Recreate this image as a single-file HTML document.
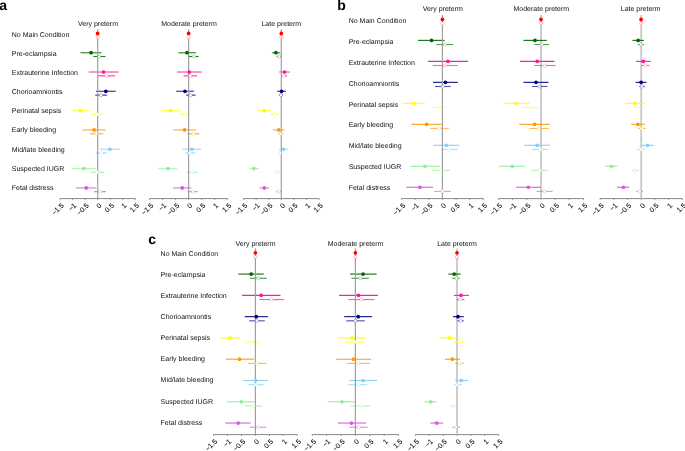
<!DOCTYPE html>
<html><head><meta charset="utf-8"><style>
html,body{margin:0;padding:0;background:#fff;}
body{width:685px;height:451px;overflow:hidden;}
svg{display:block;font-family:"Liberation Sans", sans-serif;text-rendering:geometricPrecision;will-change:transform;filter:blur(0.3px);}
text{font-family:"Liberation Sans", sans-serif;}
.tk{stroke:#111;stroke-width:0.1px;}
</style></head><body>
<svg width="685" height="451" viewBox="0 0 685 451">
<rect width="685" height="451" fill="#fff"/>
<text x="-0.8" y="10.0" font-size="14" font-weight="bold" fill="#000">a</text>
<text x="11.8" y="36.60" font-size="7" fill="#111">No Main Condition</text>
<text x="11.8" y="55.76" font-size="7" fill="#111">Pre-eclampsia</text>
<text x="11.8" y="74.92" font-size="7" fill="#111">Extrauterine Infection</text>
<text x="11.8" y="94.08" font-size="7" fill="#111">Chorioamniontis</text>
<text x="11.8" y="113.24" font-size="7" fill="#111">Perinatal sepsis</text>
<text x="11.8" y="132.40" font-size="7" fill="#111">Early bleeding</text>
<text x="11.8" y="151.56" font-size="7" fill="#111">Mid/late bleeding</text>
<text x="11.8" y="170.72" font-size="7" fill="#111">Suspected IUGR</text>
<text x="11.8" y="189.88" font-size="7" fill="#111">Fetal distress</text>
<text x="98.0" y="25.8" font-size="7" text-anchor="middle" fill="#111">Very preterm</text>
<line x1="60.05" y1="198.6" x2="135.35" y2="198.6" stroke="#888" stroke-width="1"/>
<line x1="60.05" y1="198.6" x2="60.05" y2="199.8" stroke="#888" stroke-width="1"/>
<text transform="translate(64.25,205.90) rotate(-45)" class="tk" font-size="7" text-anchor="end" fill="#111">−1.5</text>
<line x1="72.60" y1="198.6" x2="72.60" y2="199.8" stroke="#888" stroke-width="1"/>
<text transform="translate(76.80,205.90) rotate(-45)" class="tk" font-size="7" text-anchor="end" fill="#111">−1</text>
<line x1="85.15" y1="198.6" x2="85.15" y2="199.8" stroke="#888" stroke-width="1"/>
<text transform="translate(89.35,205.90) rotate(-45)" class="tk" font-size="7" text-anchor="end" fill="#111">−0.5</text>
<line x1="97.70" y1="198.6" x2="97.70" y2="199.8" stroke="#888" stroke-width="1"/>
<text transform="translate(101.90,205.90) rotate(-45)" class="tk" font-size="7" text-anchor="end" fill="#111">0</text>
<line x1="110.25" y1="198.6" x2="110.25" y2="199.8" stroke="#888" stroke-width="1"/>
<text transform="translate(114.45,205.90) rotate(-45)" class="tk" font-size="7" text-anchor="end" fill="#111">0.5</text>
<line x1="122.80" y1="198.6" x2="122.80" y2="199.8" stroke="#888" stroke-width="1"/>
<text transform="translate(127.00,205.90) rotate(-45)" class="tk" font-size="7" text-anchor="end" fill="#111">1</text>
<line x1="135.35" y1="198.6" x2="135.35" y2="199.8" stroke="#888" stroke-width="1"/>
<text transform="translate(139.55,205.90) rotate(-45)" class="tk" font-size="7" text-anchor="end" fill="#111">1.5</text>
<line x1="80.5" y1="52.71" x2="101.5" y2="52.71" stroke="#006400" stroke-width="1.4" stroke-opacity="0.65"/>
<line x1="93.4" y1="56.51" x2="105.4" y2="56.51" stroke="#006400" stroke-width="1.1" stroke-opacity="0.85"/>
<line x1="88.7" y1="72.02" x2="118.6" y2="72.02" stroke="#ff1493" stroke-width="1.4" stroke-opacity="0.65"/>
<line x1="98.0" y1="75.82" x2="115.1" y2="75.82" stroke="#ff1493" stroke-width="1.1" stroke-opacity="0.85"/>
<line x1="96.0" y1="91.33" x2="115.8" y2="91.33" stroke="#000080" stroke-width="1.4" stroke-opacity="0.65"/>
<line x1="95.3" y1="95.13" x2="106.9" y2="95.13" stroke="#000080" stroke-width="1.1" stroke-opacity="0.85"/>
<line x1="72.3" y1="110.64" x2="89.0" y2="110.64" stroke="#ffff00" stroke-width="1.4" stroke-opacity="0.65"/>
<line x1="92.2" y1="114.44" x2="102.0" y2="114.44" stroke="#ffff00" stroke-width="1.1" stroke-opacity="0.85"/>
<line x1="82.5" y1="129.95" x2="105.8" y2="129.95" stroke="#ff9900" stroke-width="1.4" stroke-opacity="0.65"/>
<line x1="90.1" y1="133.75" x2="103.3" y2="133.75" stroke="#ff9900" stroke-width="1.1" stroke-opacity="0.85"/>
<line x1="100.3" y1="149.26" x2="119.9" y2="149.26" stroke="#87cefa" stroke-width="1.4" stroke-opacity="0.65"/>
<line x1="95.7" y1="153.06" x2="107.0" y2="153.06" stroke="#87cefa" stroke-width="1.1" stroke-opacity="0.85"/>
<line x1="72.0" y1="168.57" x2="95.5" y2="168.57" stroke="#90ee90" stroke-width="1.4" stroke-opacity="0.65"/>
<line x1="90.9" y1="172.37" x2="103.9" y2="172.37" stroke="#90ee90" stroke-width="1.1" stroke-opacity="0.85"/>
<line x1="76.0" y1="187.88" x2="96.3" y2="187.88" stroke="#da55e0" stroke-width="1.4" stroke-opacity="0.65"/>
<line x1="94.0" y1="191.68" x2="106.0" y2="191.68" stroke="#da55e0" stroke-width="1.1" stroke-opacity="0.85"/>
<line x1="97.7" y1="29.2" x2="97.7" y2="198.6" stroke="#a0a0a0" stroke-width="1.2"/>
<circle cx="97.6" cy="33.40" r="1.85" fill="#ff0000"/>
<circle cx="91.1" cy="52.71" r="1.85" fill="#006400"/>
<circle cx="103.5" cy="72.02" r="1.85" fill="#ff1493"/>
<circle cx="105.8" cy="91.33" r="1.85" fill="#000080"/>
<circle cx="80.5" cy="110.64" r="1.85" fill="#ffff00"/>
<circle cx="94.2" cy="129.95" r="1.85" fill="#ff9900"/>
<circle cx="109.9" cy="149.26" r="1.85" fill="#87cefa"/>
<circle cx="83.7" cy="168.57" r="1.85" fill="#90ee90"/>
<circle cx="86.2" cy="187.88" r="1.85" fill="#da55e0"/>
<circle cx="97.6" cy="37.20" r="1.6" fill="#fff" stroke="#ff0000" stroke-width="0.55" stroke-opacity="0.45"/>
<circle cx="99.1" cy="56.51" r="1.6" fill="#fff" stroke="#006400" stroke-width="0.55" stroke-opacity="0.45"/>
<circle cx="106.4" cy="75.82" r="1.6" fill="#fff" stroke="#ff1493" stroke-width="0.55" stroke-opacity="0.45"/>
<circle cx="101.0" cy="95.13" r="1.6" fill="#fff" stroke="#000080" stroke-width="0.55" stroke-opacity="0.45"/>
<circle cx="97.1" cy="114.44" r="1.6" fill="#fff" stroke="#ffff00" stroke-width="0.55" stroke-opacity="0.45"/>
<circle cx="96.5" cy="133.75" r="1.6" fill="#fff" stroke="#ff9900" stroke-width="0.55" stroke-opacity="0.45"/>
<circle cx="101.3" cy="153.06" r="1.6" fill="#fff" stroke="#87cefa" stroke-width="0.55" stroke-opacity="0.45"/>
<circle cx="97.3" cy="172.37" r="1.6" fill="#fff" stroke="#90ee90" stroke-width="0.55" stroke-opacity="0.45"/>
<circle cx="100.2" cy="191.68" r="1.6" fill="#fff" stroke="#da55e0" stroke-width="0.55" stroke-opacity="0.45"/>
<text x="189.0" y="25.8" font-size="7" text-anchor="middle" fill="#111">Moderate preterm</text>
<line x1="149.60" y1="198.6" x2="227.60" y2="198.6" stroke="#888" stroke-width="1"/>
<line x1="149.60" y1="198.6" x2="149.60" y2="199.8" stroke="#888" stroke-width="1"/>
<text transform="translate(153.80,205.90) rotate(-45)" class="tk" font-size="7" text-anchor="end" fill="#111">−1.5</text>
<line x1="162.60" y1="198.6" x2="162.60" y2="199.8" stroke="#888" stroke-width="1"/>
<text transform="translate(166.80,205.90) rotate(-45)" class="tk" font-size="7" text-anchor="end" fill="#111">−1</text>
<line x1="175.60" y1="198.6" x2="175.60" y2="199.8" stroke="#888" stroke-width="1"/>
<text transform="translate(179.80,205.90) rotate(-45)" class="tk" font-size="7" text-anchor="end" fill="#111">−0.5</text>
<line x1="188.60" y1="198.6" x2="188.60" y2="199.8" stroke="#888" stroke-width="1"/>
<text transform="translate(192.80,205.90) rotate(-45)" class="tk" font-size="7" text-anchor="end" fill="#111">0</text>
<line x1="201.60" y1="198.6" x2="201.60" y2="199.8" stroke="#888" stroke-width="1"/>
<text transform="translate(205.80,205.90) rotate(-45)" class="tk" font-size="7" text-anchor="end" fill="#111">0.5</text>
<line x1="214.60" y1="198.6" x2="214.60" y2="199.8" stroke="#888" stroke-width="1"/>
<text transform="translate(218.80,205.90) rotate(-45)" class="tk" font-size="7" text-anchor="end" fill="#111">1</text>
<line x1="227.60" y1="198.6" x2="227.60" y2="199.8" stroke="#888" stroke-width="1"/>
<text transform="translate(231.80,205.90) rotate(-45)" class="tk" font-size="7" text-anchor="end" fill="#111">1.5</text>
<line x1="178.4" y1="52.71" x2="195.9" y2="52.71" stroke="#006400" stroke-width="1.4" stroke-opacity="0.65"/>
<line x1="188.6" y1="56.51" x2="198.6" y2="56.51" stroke="#006400" stroke-width="1.1" stroke-opacity="0.85"/>
<line x1="177.0" y1="72.02" x2="201.9" y2="72.02" stroke="#ff1493" stroke-width="1.4" stroke-opacity="0.65"/>
<line x1="183.7" y1="75.82" x2="197.0" y2="75.82" stroke="#ff1493" stroke-width="1.1" stroke-opacity="0.85"/>
<line x1="176.2" y1="91.33" x2="193.9" y2="91.33" stroke="#000080" stroke-width="1.4" stroke-opacity="0.65"/>
<line x1="186.2" y1="95.13" x2="195.5" y2="95.13" stroke="#000080" stroke-width="1.1" stroke-opacity="0.85"/>
<line x1="161.3" y1="110.64" x2="179.7" y2="110.64" stroke="#ffff00" stroke-width="1.4" stroke-opacity="0.65"/>
<line x1="180.0" y1="114.44" x2="189.7" y2="114.44" stroke="#ffff00" stroke-width="1.1" stroke-opacity="0.85"/>
<line x1="173.3" y1="129.95" x2="195.9" y2="129.95" stroke="#ff9900" stroke-width="1.4" stroke-opacity="0.65"/>
<line x1="187.3" y1="133.75" x2="199.3" y2="133.75" stroke="#ff9900" stroke-width="1.1" stroke-opacity="0.85"/>
<line x1="182.4" y1="149.26" x2="201.0" y2="149.26" stroke="#87cefa" stroke-width="1.4" stroke-opacity="0.65"/>
<line x1="185.3" y1="153.06" x2="195.3" y2="153.06" stroke="#87cefa" stroke-width="1.1" stroke-opacity="0.85"/>
<line x1="158.4" y1="168.57" x2="177.0" y2="168.57" stroke="#90ee90" stroke-width="1.4" stroke-opacity="0.65"/>
<line x1="186.6" y1="172.37" x2="197.3" y2="172.37" stroke="#90ee90" stroke-width="1.1" stroke-opacity="0.85"/>
<line x1="173.0" y1="187.88" x2="191.3" y2="187.88" stroke="#da55e0" stroke-width="1.4" stroke-opacity="0.65"/>
<line x1="187.7" y1="191.68" x2="197.5" y2="191.68" stroke="#da55e0" stroke-width="1.1" stroke-opacity="0.85"/>
<line x1="188.6" y1="29.2" x2="188.6" y2="198.6" stroke="#a0a0a0" stroke-width="1.2"/>
<circle cx="188.6" cy="33.40" r="1.85" fill="#ff0000"/>
<circle cx="187.0" cy="52.71" r="1.85" fill="#006400"/>
<circle cx="189.3" cy="72.02" r="1.85" fill="#ff1493"/>
<circle cx="185.0" cy="91.33" r="1.85" fill="#000080"/>
<circle cx="170.4" cy="110.64" r="1.85" fill="#ffff00"/>
<circle cx="184.6" cy="129.95" r="1.85" fill="#ff9900"/>
<circle cx="191.9" cy="149.26" r="1.85" fill="#87cefa"/>
<circle cx="168.0" cy="168.57" r="1.85" fill="#90ee90"/>
<circle cx="182.2" cy="187.88" r="1.85" fill="#da55e0"/>
<circle cx="188.6" cy="37.20" r="1.6" fill="#fff" stroke="#ff0000" stroke-width="0.55" stroke-opacity="0.45"/>
<circle cx="193.9" cy="56.51" r="1.6" fill="#fff" stroke="#006400" stroke-width="0.55" stroke-opacity="0.45"/>
<circle cx="190.3" cy="75.82" r="1.6" fill="#fff" stroke="#ff1493" stroke-width="0.55" stroke-opacity="0.45"/>
<circle cx="190.6" cy="95.13" r="1.6" fill="#fff" stroke="#000080" stroke-width="0.55" stroke-opacity="0.45"/>
<circle cx="184.9" cy="114.44" r="1.6" fill="#fff" stroke="#ffff00" stroke-width="0.55" stroke-opacity="0.45"/>
<circle cx="193.7" cy="133.75" r="1.6" fill="#fff" stroke="#ff9900" stroke-width="0.55" stroke-opacity="0.45"/>
<circle cx="189.7" cy="153.06" r="1.6" fill="#fff" stroke="#87cefa" stroke-width="0.55" stroke-opacity="0.45"/>
<circle cx="191.7" cy="172.37" r="1.6" fill="#fff" stroke="#90ee90" stroke-width="0.55" stroke-opacity="0.45"/>
<circle cx="192.9" cy="191.68" r="1.6" fill="#fff" stroke="#da55e0" stroke-width="0.55" stroke-opacity="0.45"/>
<text x="281.3" y="25.8" font-size="7" text-anchor="middle" fill="#111">Late preterm</text>
<line x1="243.50" y1="198.6" x2="319.10" y2="198.6" stroke="#888" stroke-width="1"/>
<line x1="243.50" y1="198.6" x2="243.50" y2="199.8" stroke="#888" stroke-width="1"/>
<text transform="translate(247.70,205.90) rotate(-45)" class="tk" font-size="7" text-anchor="end" fill="#111">−1.5</text>
<line x1="256.10" y1="198.6" x2="256.10" y2="199.8" stroke="#888" stroke-width="1"/>
<text transform="translate(260.30,205.90) rotate(-45)" class="tk" font-size="7" text-anchor="end" fill="#111">−1</text>
<line x1="268.70" y1="198.6" x2="268.70" y2="199.8" stroke="#888" stroke-width="1"/>
<text transform="translate(272.90,205.90) rotate(-45)" class="tk" font-size="7" text-anchor="end" fill="#111">−0.5</text>
<line x1="281.30" y1="198.6" x2="281.30" y2="199.8" stroke="#888" stroke-width="1"/>
<text transform="translate(285.50,205.90) rotate(-45)" class="tk" font-size="7" text-anchor="end" fill="#111">0</text>
<line x1="293.90" y1="198.6" x2="293.90" y2="199.8" stroke="#888" stroke-width="1"/>
<text transform="translate(298.10,205.90) rotate(-45)" class="tk" font-size="7" text-anchor="end" fill="#111">0.5</text>
<line x1="306.50" y1="198.6" x2="306.50" y2="199.8" stroke="#888" stroke-width="1"/>
<text transform="translate(310.70,205.90) rotate(-45)" class="tk" font-size="7" text-anchor="end" fill="#111">1</text>
<line x1="319.10" y1="198.6" x2="319.10" y2="199.8" stroke="#888" stroke-width="1"/>
<text transform="translate(323.30,205.90) rotate(-45)" class="tk" font-size="7" text-anchor="end" fill="#111">1.5</text>
<line x1="271.9" y1="52.71" x2="280.3" y2="52.71" stroke="#006400" stroke-width="1.4" stroke-opacity="0.65"/>
<line x1="276.7" y1="56.51" x2="281.0" y2="56.51" stroke="#006400" stroke-width="1.1" stroke-opacity="0.85"/>
<line x1="279.2" y1="72.02" x2="289.9" y2="72.02" stroke="#ff1493" stroke-width="1.4" stroke-opacity="0.65"/>
<line x1="281.3" y1="75.82" x2="286.9" y2="75.82" stroke="#ff1493" stroke-width="1.1" stroke-opacity="0.85"/>
<line x1="277.2" y1="91.33" x2="285.9" y2="91.33" stroke="#000080" stroke-width="1.4" stroke-opacity="0.65"/>
<line x1="279.0" y1="95.13" x2="283.0" y2="95.13" stroke="#000080" stroke-width="1.1" stroke-opacity="0.85"/>
<line x1="257.0" y1="110.64" x2="271.6" y2="110.64" stroke="#ffff00" stroke-width="1.4" stroke-opacity="0.65"/>
<line x1="271.0" y1="114.44" x2="278.3" y2="114.44" stroke="#ffff00" stroke-width="1.1" stroke-opacity="0.85"/>
<line x1="273.0" y1="129.95" x2="284.5" y2="129.95" stroke="#ff9900" stroke-width="1.4" stroke-opacity="0.65"/>
<line x1="278.3" y1="133.75" x2="283.3" y2="133.75" stroke="#ff9900" stroke-width="1.1" stroke-opacity="0.85"/>
<line x1="279.0" y1="149.26" x2="288.5" y2="149.26" stroke="#87cefa" stroke-width="1.4" stroke-opacity="0.65"/>
<line x1="278.0" y1="153.06" x2="282.3" y2="153.06" stroke="#87cefa" stroke-width="1.1" stroke-opacity="0.85"/>
<line x1="249.3" y1="168.57" x2="259.0" y2="168.57" stroke="#90ee90" stroke-width="1.4" stroke-opacity="0.65"/>
<line x1="275.0" y1="172.37" x2="279.6" y2="172.37" stroke="#90ee90" stroke-width="1.1" stroke-opacity="0.85"/>
<line x1="259.6" y1="187.88" x2="269.0" y2="187.88" stroke="#da55e0" stroke-width="1.4" stroke-opacity="0.65"/>
<line x1="276.3" y1="191.68" x2="280.7" y2="191.68" stroke="#da55e0" stroke-width="1.1" stroke-opacity="0.85"/>
<line x1="281.3" y1="29.2" x2="281.3" y2="198.6" stroke="#a0a0a0" stroke-width="1.2"/>
<circle cx="281.3" cy="33.40" r="1.85" fill="#ff0000"/>
<circle cx="275.9" cy="52.71" r="1.85" fill="#006400"/>
<circle cx="284.5" cy="72.02" r="1.85" fill="#ff1493"/>
<circle cx="281.6" cy="91.33" r="1.85" fill="#000080"/>
<circle cx="264.3" cy="110.64" r="1.85" fill="#ffff00"/>
<circle cx="278.7" cy="129.95" r="1.85" fill="#ff9900"/>
<circle cx="283.3" cy="149.26" r="1.85" fill="#87cefa"/>
<circle cx="253.9" cy="168.57" r="1.85" fill="#90ee90"/>
<circle cx="264.3" cy="187.88" r="1.85" fill="#da55e0"/>
<circle cx="281.3" cy="37.20" r="1.6" fill="#fff" stroke="#ff0000" stroke-width="0.55" stroke-opacity="0.45"/>
<circle cx="279.0" cy="56.51" r="1.6" fill="#fff" stroke="#006400" stroke-width="0.55" stroke-opacity="0.45"/>
<circle cx="283.6" cy="75.82" r="1.6" fill="#fff" stroke="#ff1493" stroke-width="0.55" stroke-opacity="0.45"/>
<circle cx="281.0" cy="95.13" r="1.6" fill="#fff" stroke="#000080" stroke-width="0.55" stroke-opacity="0.45"/>
<circle cx="274.6" cy="114.44" r="1.6" fill="#fff" stroke="#ffff00" stroke-width="0.55" stroke-opacity="0.45"/>
<circle cx="280.7" cy="133.75" r="1.6" fill="#fff" stroke="#ff9900" stroke-width="0.55" stroke-opacity="0.45"/>
<circle cx="280.0" cy="153.06" r="1.6" fill="#fff" stroke="#87cefa" stroke-width="0.55" stroke-opacity="0.45"/>
<circle cx="277.0" cy="172.37" r="1.6" fill="#fff" stroke="#90ee90" stroke-width="0.55" stroke-opacity="0.45"/>
<circle cx="278.5" cy="191.68" r="1.6" fill="#fff" stroke="#da55e0" stroke-width="0.55" stroke-opacity="0.45"/>
<text x="337.2" y="9.6" font-size="14" font-weight="bold" fill="#000">b</text>
<text x="348.7" y="23.35" font-size="7" fill="#111">No Main Condition</text>
<text x="348.7" y="44.14" font-size="7" fill="#111">Pre-eclampsia</text>
<text x="348.7" y="64.93" font-size="7" fill="#111">Extrauterine Infection</text>
<text x="348.7" y="85.72" font-size="7" fill="#111">Chorioamniontis</text>
<text x="348.7" y="106.51" font-size="7" fill="#111">Perinatal sepsis</text>
<text x="348.7" y="127.30" font-size="7" fill="#111">Early bleeding</text>
<text x="348.7" y="148.09" font-size="7" fill="#111">Mid/late bleeding</text>
<text x="348.7" y="168.88" font-size="7" fill="#111">Suspected IUGR</text>
<text x="348.7" y="189.67" font-size="7" fill="#111">Fetal distress</text>
<text x="442.8" y="11.1" font-size="7" text-anchor="middle" fill="#111">Very preterm</text>
<line x1="401.45" y1="198.6" x2="483.35" y2="198.6" stroke="#888" stroke-width="1"/>
<line x1="401.45" y1="198.6" x2="401.45" y2="199.8" stroke="#888" stroke-width="1"/>
<text transform="translate(405.65,205.90) rotate(-45)" class="tk" font-size="7" text-anchor="end" fill="#111">−1.5</text>
<line x1="415.10" y1="198.6" x2="415.10" y2="199.8" stroke="#888" stroke-width="1"/>
<text transform="translate(419.30,205.90) rotate(-45)" class="tk" font-size="7" text-anchor="end" fill="#111">−1</text>
<line x1="428.75" y1="198.6" x2="428.75" y2="199.8" stroke="#888" stroke-width="1"/>
<text transform="translate(432.95,205.90) rotate(-45)" class="tk" font-size="7" text-anchor="end" fill="#111">−0.5</text>
<line x1="442.40" y1="198.6" x2="442.40" y2="199.8" stroke="#888" stroke-width="1"/>
<text transform="translate(446.60,205.90) rotate(-45)" class="tk" font-size="7" text-anchor="end" fill="#111">0</text>
<line x1="456.05" y1="198.6" x2="456.05" y2="199.8" stroke="#888" stroke-width="1"/>
<text transform="translate(460.25,205.90) rotate(-45)" class="tk" font-size="7" text-anchor="end" fill="#111">0.5</text>
<line x1="469.70" y1="198.6" x2="469.70" y2="199.8" stroke="#888" stroke-width="1"/>
<text transform="translate(473.90,205.90) rotate(-45)" class="tk" font-size="7" text-anchor="end" fill="#111">1</text>
<line x1="483.35" y1="198.6" x2="483.35" y2="199.8" stroke="#888" stroke-width="1"/>
<text transform="translate(487.55,205.90) rotate(-45)" class="tk" font-size="7" text-anchor="end" fill="#111">1.5</text>
<line x1="418.0" y1="40.38" x2="444.6" y2="40.38" stroke="#006400" stroke-width="1.1" stroke-opacity="0.95"/>
<line x1="436.4" y1="44.53" x2="453.3" y2="44.53" stroke="#006400" stroke-width="1.1" stroke-opacity="0.65"/>
<line x1="427.9" y1="61.36" x2="468.1" y2="61.36" stroke="#ff1493" stroke-width="1.1" stroke-opacity="0.95"/>
<line x1="432.7" y1="65.51" x2="457.8" y2="65.51" stroke="#ff1493" stroke-width="1.1" stroke-opacity="0.65"/>
<line x1="433.0" y1="82.34" x2="457.8" y2="82.34" stroke="#000080" stroke-width="1.1" stroke-opacity="0.95"/>
<line x1="435.1" y1="86.49" x2="450.8" y2="86.49" stroke="#000080" stroke-width="1.1" stroke-opacity="0.65"/>
<line x1="403.1" y1="103.32" x2="425.0" y2="103.32" stroke="#ffff00" stroke-width="1.1" stroke-opacity="0.95"/>
<line x1="433.0" y1="107.47" x2="446.9" y2="107.47" stroke="#ffff00" stroke-width="1.1" stroke-opacity="0.65"/>
<line x1="411.4" y1="124.30" x2="441.5" y2="124.30" stroke="#ff9900" stroke-width="1.1" stroke-opacity="0.95"/>
<line x1="430.2" y1="128.45" x2="448.8" y2="128.45" stroke="#ff9900" stroke-width="1.1" stroke-opacity="0.65"/>
<line x1="433.4" y1="145.28" x2="459.1" y2="145.28" stroke="#87cefa" stroke-width="1.1" stroke-opacity="0.95"/>
<line x1="441.1" y1="149.43" x2="457.5" y2="149.43" stroke="#87cefa" stroke-width="1.1" stroke-opacity="0.65"/>
<line x1="410.2" y1="166.26" x2="439.8" y2="166.26" stroke="#90ee90" stroke-width="1.1" stroke-opacity="0.95"/>
<line x1="431.5" y1="170.41" x2="450.1" y2="170.41" stroke="#90ee90" stroke-width="1.1" stroke-opacity="0.65"/>
<line x1="406.4" y1="187.24" x2="433.1" y2="187.24" stroke="#da55e0" stroke-width="1.1" stroke-opacity="0.95"/>
<line x1="434.0" y1="191.39" x2="451.0" y2="191.39" stroke="#da55e0" stroke-width="1.1" stroke-opacity="0.65"/>
<line x1="442.4" y1="15.1" x2="442.4" y2="198.6" stroke="#a0a0a0" stroke-width="1.2"/>
<circle cx="442.4" cy="19.40" r="1.85" fill="#ff0000"/>
<circle cx="431.5" cy="40.38" r="1.85" fill="#006400"/>
<circle cx="447.9" cy="61.36" r="1.85" fill="#ff1493"/>
<circle cx="445.4" cy="82.34" r="1.85" fill="#000080"/>
<circle cx="414.1" cy="103.32" r="1.85" fill="#ffff00"/>
<circle cx="426.6" cy="124.30" r="1.85" fill="#ff9900"/>
<circle cx="446.3" cy="145.28" r="1.85" fill="#87cefa"/>
<circle cx="425.0" cy="166.26" r="1.85" fill="#90ee90"/>
<circle cx="419.9" cy="187.24" r="1.85" fill="#da55e0"/>
<circle cx="442.4" cy="23.55" r="1.6" fill="#fff" stroke="#ff0000" stroke-width="0.55" stroke-opacity="0.45"/>
<circle cx="445.0" cy="44.53" r="1.6" fill="#fff" stroke="#006400" stroke-width="0.55" stroke-opacity="0.45"/>
<circle cx="445.2" cy="65.51" r="1.6" fill="#fff" stroke="#ff1493" stroke-width="0.55" stroke-opacity="0.45"/>
<circle cx="442.8" cy="86.49" r="1.6" fill="#fff" stroke="#000080" stroke-width="0.55" stroke-opacity="0.45"/>
<circle cx="439.8" cy="107.47" r="1.6" fill="#fff" stroke="#ffff00" stroke-width="0.55" stroke-opacity="0.45"/>
<circle cx="439.4" cy="128.45" r="1.6" fill="#fff" stroke="#ff9900" stroke-width="0.55" stroke-opacity="0.45"/>
<circle cx="449.2" cy="149.43" r="1.6" fill="#fff" stroke="#87cefa" stroke-width="0.55" stroke-opacity="0.45"/>
<circle cx="440.6" cy="170.41" r="1.6" fill="#fff" stroke="#90ee90" stroke-width="0.55" stroke-opacity="0.45"/>
<circle cx="442.4" cy="191.39" r="1.6" fill="#fff" stroke="#da55e0" stroke-width="0.55" stroke-opacity="0.45"/>
<text x="541.3" y="11.1" font-size="7" text-anchor="middle" fill="#111">Moderate preterm</text>
<line x1="498.40" y1="198.6" x2="583.60" y2="198.6" stroke="#888" stroke-width="1"/>
<line x1="498.40" y1="198.6" x2="498.40" y2="199.8" stroke="#888" stroke-width="1"/>
<text transform="translate(502.60,205.90) rotate(-45)" class="tk" font-size="7" text-anchor="end" fill="#111">−1.5</text>
<line x1="512.60" y1="198.6" x2="512.60" y2="199.8" stroke="#888" stroke-width="1"/>
<text transform="translate(516.80,205.90) rotate(-45)" class="tk" font-size="7" text-anchor="end" fill="#111">−1</text>
<line x1="526.80" y1="198.6" x2="526.80" y2="199.8" stroke="#888" stroke-width="1"/>
<text transform="translate(531.00,205.90) rotate(-45)" class="tk" font-size="7" text-anchor="end" fill="#111">−0.5</text>
<line x1="541.00" y1="198.6" x2="541.00" y2="199.8" stroke="#888" stroke-width="1"/>
<text transform="translate(545.20,205.90) rotate(-45)" class="tk" font-size="7" text-anchor="end" fill="#111">0</text>
<line x1="555.20" y1="198.6" x2="555.20" y2="199.8" stroke="#888" stroke-width="1"/>
<text transform="translate(559.40,205.90) rotate(-45)" class="tk" font-size="7" text-anchor="end" fill="#111">0.5</text>
<line x1="569.40" y1="198.6" x2="569.40" y2="199.8" stroke="#888" stroke-width="1"/>
<text transform="translate(573.60,205.90) rotate(-45)" class="tk" font-size="7" text-anchor="end" fill="#111">1</text>
<line x1="583.60" y1="198.6" x2="583.60" y2="199.8" stroke="#888" stroke-width="1"/>
<text transform="translate(587.80,205.90) rotate(-45)" class="tk" font-size="7" text-anchor="end" fill="#111">1.5</text>
<line x1="541.0" y1="15.1" x2="541.0" y2="198.6" stroke="#c8c8c8" stroke-width="1.8"/>
<line x1="523.4" y1="40.38" x2="546.8" y2="40.38" stroke="#006400" stroke-width="1.1" stroke-opacity="0.95"/>
<line x1="534.3" y1="44.53" x2="549.1" y2="44.53" stroke="#006400" stroke-width="1.1" stroke-opacity="0.65"/>
<line x1="519.9" y1="61.36" x2="554.5" y2="61.36" stroke="#ff1493" stroke-width="1.1" stroke-opacity="0.95"/>
<line x1="534.1" y1="65.51" x2="555.6" y2="65.51" stroke="#ff1493" stroke-width="1.1" stroke-opacity="0.65"/>
<line x1="523.4" y1="82.34" x2="548.5" y2="82.34" stroke="#000080" stroke-width="1.1" stroke-opacity="0.95"/>
<line x1="532.0" y1="86.49" x2="547.5" y2="86.49" stroke="#000080" stroke-width="1.1" stroke-opacity="0.65"/>
<line x1="503.2" y1="103.32" x2="529.4" y2="103.32" stroke="#ffff00" stroke-width="1.1" stroke-opacity="0.95"/>
<line x1="523.0" y1="107.47" x2="538.8" y2="107.47" stroke="#ffff00" stroke-width="1.1" stroke-opacity="0.65"/>
<line x1="519.1" y1="124.30" x2="549.8" y2="124.30" stroke="#ff9900" stroke-width="1.1" stroke-opacity="0.95"/>
<line x1="529.4" y1="128.45" x2="548.7" y2="128.45" stroke="#ff9900" stroke-width="1.1" stroke-opacity="0.65"/>
<line x1="524.4" y1="145.28" x2="549.8" y2="145.28" stroke="#87cefa" stroke-width="1.1" stroke-opacity="0.95"/>
<line x1="532.1" y1="149.43" x2="548.1" y2="149.43" stroke="#87cefa" stroke-width="1.1" stroke-opacity="0.65"/>
<line x1="498.9" y1="166.26" x2="525.1" y2="166.26" stroke="#90ee90" stroke-width="1.1" stroke-opacity="0.95"/>
<line x1="531.1" y1="170.41" x2="547.8" y2="170.41" stroke="#90ee90" stroke-width="1.1" stroke-opacity="0.65"/>
<line x1="516.0" y1="187.24" x2="540.8" y2="187.24" stroke="#da55e0" stroke-width="1.1" stroke-opacity="0.95"/>
<line x1="536.5" y1="191.39" x2="552.6" y2="191.39" stroke="#da55e0" stroke-width="1.1" stroke-opacity="0.65"/>
<circle cx="541.0" cy="19.40" r="1.85" fill="#ff0000"/>
<circle cx="535.0" cy="40.38" r="1.85" fill="#006400"/>
<circle cx="537.2" cy="61.36" r="1.85" fill="#ff1493"/>
<circle cx="536.0" cy="82.34" r="1.85" fill="#000080"/>
<circle cx="516.3" cy="103.32" r="1.85" fill="#ffff00"/>
<circle cx="534.6" cy="124.30" r="1.85" fill="#ff9900"/>
<circle cx="537.2" cy="145.28" r="1.85" fill="#87cefa"/>
<circle cx="512.2" cy="166.26" r="1.85" fill="#90ee90"/>
<circle cx="528.3" cy="187.24" r="1.85" fill="#da55e0"/>
<circle cx="541.0" cy="23.55" r="1.6" fill="#fff" stroke="#ff0000" stroke-width="0.55" stroke-opacity="0.45"/>
<circle cx="541.7" cy="44.53" r="1.6" fill="#fff" stroke="#006400" stroke-width="0.55" stroke-opacity="0.45"/>
<circle cx="544.4" cy="65.51" r="1.6" fill="#fff" stroke="#ff1493" stroke-width="0.55" stroke-opacity="0.45"/>
<circle cx="539.5" cy="86.49" r="1.6" fill="#fff" stroke="#000080" stroke-width="0.55" stroke-opacity="0.45"/>
<circle cx="531.1" cy="107.47" r="1.6" fill="#fff" stroke="#ffff00" stroke-width="0.55" stroke-opacity="0.45"/>
<circle cx="538.8" cy="128.45" r="1.6" fill="#fff" stroke="#ff9900" stroke-width="0.55" stroke-opacity="0.45"/>
<circle cx="540.4" cy="149.43" r="1.6" fill="#fff" stroke="#87cefa" stroke-width="0.55" stroke-opacity="0.45"/>
<circle cx="539.7" cy="170.41" r="1.6" fill="#fff" stroke="#90ee90" stroke-width="0.55" stroke-opacity="0.45"/>
<circle cx="544.6" cy="191.39" r="1.6" fill="#fff" stroke="#da55e0" stroke-width="0.55" stroke-opacity="0.45"/>
<text x="640.6" y="11.1" font-size="7" text-anchor="middle" fill="#111">Late preterm</text>
<line x1="600.10" y1="198.6" x2="682.30" y2="198.6" stroke="#888" stroke-width="1"/>
<line x1="600.10" y1="198.6" x2="600.10" y2="199.8" stroke="#888" stroke-width="1"/>
<text transform="translate(604.30,205.90) rotate(-45)" class="tk" font-size="7" text-anchor="end" fill="#111">−1.5</text>
<line x1="613.80" y1="198.6" x2="613.80" y2="199.8" stroke="#888" stroke-width="1"/>
<text transform="translate(618.00,205.90) rotate(-45)" class="tk" font-size="7" text-anchor="end" fill="#111">−1</text>
<line x1="627.50" y1="198.6" x2="627.50" y2="199.8" stroke="#888" stroke-width="1"/>
<text transform="translate(631.70,205.90) rotate(-45)" class="tk" font-size="7" text-anchor="end" fill="#111">−0.5</text>
<line x1="641.20" y1="198.6" x2="641.20" y2="199.8" stroke="#888" stroke-width="1"/>
<text transform="translate(645.40,205.90) rotate(-45)" class="tk" font-size="7" text-anchor="end" fill="#111">0</text>
<line x1="654.90" y1="198.6" x2="654.90" y2="199.8" stroke="#888" stroke-width="1"/>
<text transform="translate(659.10,205.90) rotate(-45)" class="tk" font-size="7" text-anchor="end" fill="#111">0.5</text>
<line x1="668.60" y1="198.6" x2="668.60" y2="199.8" stroke="#888" stroke-width="1"/>
<text transform="translate(672.80,205.90) rotate(-45)" class="tk" font-size="7" text-anchor="end" fill="#111">1</text>
<line x1="682.30" y1="198.6" x2="682.30" y2="199.8" stroke="#888" stroke-width="1"/>
<text transform="translate(686.50,205.90) rotate(-45)" class="tk" font-size="7" text-anchor="end" fill="#111">1.5</text>
<line x1="641.2" y1="15.1" x2="641.2" y2="198.6" stroke="#c8c8c8" stroke-width="1.8"/>
<line x1="632.4" y1="40.38" x2="644.0" y2="40.38" stroke="#006400" stroke-width="1.1" stroke-opacity="0.95"/>
<line x1="637.9" y1="44.53" x2="644.0" y2="44.53" stroke="#006400" stroke-width="1.1" stroke-opacity="0.65"/>
<line x1="636.0" y1="61.36" x2="650.8" y2="61.36" stroke="#ff1493" stroke-width="1.1" stroke-opacity="0.95"/>
<line x1="641.4" y1="65.51" x2="649.5" y2="65.51" stroke="#ff1493" stroke-width="1.1" stroke-opacity="0.65"/>
<line x1="635.6" y1="82.34" x2="646.5" y2="82.34" stroke="#000080" stroke-width="1.1" stroke-opacity="0.95"/>
<line x1="639.2" y1="86.49" x2="644.9" y2="86.49" stroke="#000080" stroke-width="1.1" stroke-opacity="0.65"/>
<line x1="625.1" y1="103.32" x2="644.9" y2="103.32" stroke="#ffff00" stroke-width="1.1" stroke-opacity="0.95"/>
<line x1="633.7" y1="107.47" x2="644.4" y2="107.47" stroke="#ffff00" stroke-width="1.1" stroke-opacity="0.65"/>
<line x1="631.1" y1="124.30" x2="644.9" y2="124.30" stroke="#ff9900" stroke-width="1.1" stroke-opacity="0.95"/>
<line x1="638.2" y1="128.45" x2="645.9" y2="128.45" stroke="#ff9900" stroke-width="1.1" stroke-opacity="0.65"/>
<line x1="641.4" y1="145.28" x2="653.9" y2="145.28" stroke="#87cefa" stroke-width="1.1" stroke-opacity="0.95"/>
<line x1="637.3" y1="149.43" x2="644.6" y2="149.43" stroke="#87cefa" stroke-width="1.1" stroke-opacity="0.65"/>
<line x1="605.4" y1="166.26" x2="617.6" y2="166.26" stroke="#90ee90" stroke-width="1.1" stroke-opacity="0.95"/>
<line x1="632.0" y1="170.41" x2="638.8" y2="170.41" stroke="#90ee90" stroke-width="1.1" stroke-opacity="0.65"/>
<line x1="617.0" y1="187.24" x2="629.2" y2="187.24" stroke="#da55e0" stroke-width="1.1" stroke-opacity="0.95"/>
<line x1="636.0" y1="191.39" x2="643.0" y2="191.39" stroke="#da55e0" stroke-width="1.1" stroke-opacity="0.65"/>
<circle cx="641.1" cy="19.40" r="1.85" fill="#ff0000"/>
<circle cx="638.2" cy="40.38" r="1.85" fill="#006400"/>
<circle cx="643.3" cy="61.36" r="1.85" fill="#ff1493"/>
<circle cx="641.1" cy="82.34" r="1.85" fill="#000080"/>
<circle cx="634.7" cy="103.32" r="1.85" fill="#ffff00"/>
<circle cx="637.9" cy="124.30" r="1.85" fill="#ff9900"/>
<circle cx="647.6" cy="145.28" r="1.85" fill="#87cefa"/>
<circle cx="611.4" cy="166.26" r="1.85" fill="#90ee90"/>
<circle cx="623.4" cy="187.24" r="1.85" fill="#da55e0"/>
<circle cx="641.1" cy="23.55" r="1.6" fill="#fff" stroke="#ff0000" stroke-width="0.55" stroke-opacity="0.45"/>
<circle cx="641.0" cy="44.53" r="1.6" fill="#fff" stroke="#006400" stroke-width="0.55" stroke-opacity="0.45"/>
<circle cx="645.0" cy="65.51" r="1.6" fill="#fff" stroke="#ff1493" stroke-width="0.55" stroke-opacity="0.45"/>
<circle cx="641.8" cy="86.49" r="1.6" fill="#fff" stroke="#000080" stroke-width="0.55" stroke-opacity="0.45"/>
<circle cx="638.8" cy="107.47" r="1.6" fill="#fff" stroke="#ffff00" stroke-width="0.55" stroke-opacity="0.45"/>
<circle cx="641.7" cy="128.45" r="1.6" fill="#fff" stroke="#ff9900" stroke-width="0.55" stroke-opacity="0.45"/>
<circle cx="641.1" cy="149.43" r="1.6" fill="#fff" stroke="#87cefa" stroke-width="0.55" stroke-opacity="0.45"/>
<circle cx="635.2" cy="170.41" r="1.6" fill="#fff" stroke="#90ee90" stroke-width="0.55" stroke-opacity="0.45"/>
<circle cx="639.5" cy="191.39" r="1.6" fill="#fff" stroke="#da55e0" stroke-width="0.55" stroke-opacity="0.45"/>
<text x="148.2" y="244.0" font-size="14" font-weight="bold" fill="#000">c</text>
<text x="160.6" y="255.90" font-size="7" fill="#111">No Main Condition</text>
<text x="160.6" y="276.99" font-size="7" fill="#111">Pre-eclampsia</text>
<text x="160.6" y="298.08" font-size="7" fill="#111">Extrauterine Infection</text>
<text x="160.6" y="319.17" font-size="7" fill="#111">Chorioamniontis</text>
<text x="160.6" y="340.26" font-size="7" fill="#111">Perinatal sepsis</text>
<text x="160.6" y="361.35" font-size="7" fill="#111">Early bleeding</text>
<text x="160.6" y="382.44" font-size="7" fill="#111">Mid/late bleeding</text>
<text x="160.6" y="403.53" font-size="7" fill="#111">Suspected IUGR</text>
<text x="160.6" y="424.62" font-size="7" fill="#111">Fetal distress</text>
<text x="255.5" y="245.8" font-size="7" text-anchor="middle" fill="#111">Very preterm</text>
<line x1="213.55" y1="434.6" x2="297.25" y2="434.6" stroke="#888" stroke-width="1"/>
<line x1="213.55" y1="434.6" x2="213.55" y2="435.8" stroke="#888" stroke-width="1"/>
<text transform="translate(217.75,441.90) rotate(-45)" class="tk" font-size="7" text-anchor="end" fill="#111">−1.5</text>
<line x1="227.50" y1="434.6" x2="227.50" y2="435.8" stroke="#888" stroke-width="1"/>
<text transform="translate(231.70,441.90) rotate(-45)" class="tk" font-size="7" text-anchor="end" fill="#111">−1</text>
<line x1="241.45" y1="434.6" x2="241.45" y2="435.8" stroke="#888" stroke-width="1"/>
<text transform="translate(245.65,441.90) rotate(-45)" class="tk" font-size="7" text-anchor="end" fill="#111">−0.5</text>
<line x1="255.40" y1="434.6" x2="255.40" y2="435.8" stroke="#888" stroke-width="1"/>
<text transform="translate(259.60,441.90) rotate(-45)" class="tk" font-size="7" text-anchor="end" fill="#111">0</text>
<line x1="269.35" y1="434.6" x2="269.35" y2="435.8" stroke="#888" stroke-width="1"/>
<text transform="translate(273.55,441.90) rotate(-45)" class="tk" font-size="7" text-anchor="end" fill="#111">0.5</text>
<line x1="283.30" y1="434.6" x2="283.30" y2="435.8" stroke="#888" stroke-width="1"/>
<text transform="translate(287.50,441.90) rotate(-45)" class="tk" font-size="7" text-anchor="end" fill="#111">1</text>
<line x1="297.25" y1="434.6" x2="297.25" y2="435.8" stroke="#888" stroke-width="1"/>
<text transform="translate(301.45,441.90) rotate(-45)" class="tk" font-size="7" text-anchor="end" fill="#111">1.5</text>
<line x1="238.3" y1="274.08" x2="263.8" y2="274.08" stroke="#006400" stroke-width="1.1" stroke-opacity="0.95"/>
<line x1="250.0" y1="278.28" x2="266.7" y2="278.28" stroke="#006400" stroke-width="1.1" stroke-opacity="0.7"/>
<line x1="242.1" y1="295.36" x2="280.5" y2="295.36" stroke="#ff1493" stroke-width="1.1" stroke-opacity="0.95"/>
<line x1="259.3" y1="299.56" x2="284.1" y2="299.56" stroke="#ff1493" stroke-width="1.1" stroke-opacity="0.7"/>
<line x1="244.7" y1="316.64" x2="267.9" y2="316.64" stroke="#000080" stroke-width="1.1" stroke-opacity="0.95"/>
<line x1="249.2" y1="320.84" x2="264.8" y2="320.84" stroke="#000080" stroke-width="1.1" stroke-opacity="0.7"/>
<line x1="219.9" y1="337.92" x2="240.1" y2="337.92" stroke="#ffff00" stroke-width="1.1" stroke-opacity="0.95"/>
<line x1="245.1" y1="342.12" x2="258.5" y2="342.12" stroke="#ffff00" stroke-width="1.1" stroke-opacity="0.7"/>
<line x1="226.0" y1="359.20" x2="253.9" y2="359.20" stroke="#ff9900" stroke-width="1.1" stroke-opacity="0.95"/>
<line x1="248.1" y1="363.40" x2="266.4" y2="363.40" stroke="#ff9900" stroke-width="1.1" stroke-opacity="0.7"/>
<line x1="243.2" y1="380.48" x2="267.8" y2="380.48" stroke="#87cefa" stroke-width="1.1" stroke-opacity="0.95"/>
<line x1="248.1" y1="384.68" x2="263.9" y2="384.68" stroke="#87cefa" stroke-width="1.1" stroke-opacity="0.7"/>
<line x1="227.1" y1="401.76" x2="254.5" y2="401.76" stroke="#90ee90" stroke-width="1.1" stroke-opacity="0.95"/>
<line x1="244.9" y1="405.96" x2="262.3" y2="405.96" stroke="#90ee90" stroke-width="1.1" stroke-opacity="0.7"/>
<line x1="225.3" y1="423.04" x2="250.7" y2="423.04" stroke="#da55e0" stroke-width="1.1" stroke-opacity="0.95"/>
<line x1="249.7" y1="427.24" x2="266.1" y2="427.24" stroke="#da55e0" stroke-width="1.1" stroke-opacity="0.7"/>
<line x1="255.4" y1="248.4" x2="255.4" y2="434.6" stroke="#a0a0a0" stroke-width="1.2"/>
<circle cx="255.4" cy="252.80" r="1.85" fill="#ff0000"/>
<circle cx="251.2" cy="274.08" r="1.85" fill="#006400"/>
<circle cx="261.2" cy="295.36" r="1.85" fill="#ff1493"/>
<circle cx="256.3" cy="316.64" r="1.85" fill="#000080"/>
<circle cx="230.2" cy="337.92" r="1.85" fill="#ffff00"/>
<circle cx="239.5" cy="359.20" r="1.85" fill="#ff9900"/>
<circle cx="255.6" cy="380.48" r="1.85" fill="#87cefa"/>
<circle cx="241.3" cy="401.76" r="1.85" fill="#90ee90"/>
<circle cx="238.2" cy="423.04" r="1.85" fill="#da55e0"/>
<circle cx="255.4" cy="257.00" r="1.6" fill="#fff" stroke="#ff0000" stroke-width="0.55" stroke-opacity="0.45"/>
<circle cx="258.4" cy="278.28" r="1.6" fill="#fff" stroke="#006400" stroke-width="0.55" stroke-opacity="0.45"/>
<circle cx="271.5" cy="299.56" r="1.6" fill="#fff" stroke="#ff1493" stroke-width="0.55" stroke-opacity="0.45"/>
<circle cx="257.0" cy="320.84" r="1.6" fill="#fff" stroke="#000080" stroke-width="0.55" stroke-opacity="0.45"/>
<circle cx="251.5" cy="342.12" r="1.6" fill="#fff" stroke="#ffff00" stroke-width="0.55" stroke-opacity="0.45"/>
<circle cx="256.9" cy="363.40" r="1.6" fill="#fff" stroke="#ff9900" stroke-width="0.55" stroke-opacity="0.45"/>
<circle cx="255.8" cy="384.68" r="1.6" fill="#fff" stroke="#87cefa" stroke-width="0.55" stroke-opacity="0.45"/>
<circle cx="253.3" cy="405.96" r="1.6" fill="#fff" stroke="#90ee90" stroke-width="0.55" stroke-opacity="0.45"/>
<circle cx="258.0" cy="427.24" r="1.6" fill="#fff" stroke="#da55e0" stroke-width="0.55" stroke-opacity="0.45"/>
<text x="355.5" y="245.8" font-size="7" text-anchor="middle" fill="#111">Moderate preterm</text>
<line x1="312.20" y1="434.6" x2="398.60" y2="434.6" stroke="#888" stroke-width="1"/>
<line x1="312.20" y1="434.6" x2="312.20" y2="435.8" stroke="#888" stroke-width="1"/>
<text transform="translate(316.40,441.90) rotate(-45)" class="tk" font-size="7" text-anchor="end" fill="#111">−1.5</text>
<line x1="326.60" y1="434.6" x2="326.60" y2="435.8" stroke="#888" stroke-width="1"/>
<text transform="translate(330.80,441.90) rotate(-45)" class="tk" font-size="7" text-anchor="end" fill="#111">−1</text>
<line x1="341.00" y1="434.6" x2="341.00" y2="435.8" stroke="#888" stroke-width="1"/>
<text transform="translate(345.20,441.90) rotate(-45)" class="tk" font-size="7" text-anchor="end" fill="#111">−0.5</text>
<line x1="355.40" y1="434.6" x2="355.40" y2="435.8" stroke="#888" stroke-width="1"/>
<text transform="translate(359.60,441.90) rotate(-45)" class="tk" font-size="7" text-anchor="end" fill="#111">0</text>
<line x1="369.80" y1="434.6" x2="369.80" y2="435.8" stroke="#888" stroke-width="1"/>
<text transform="translate(374.00,441.90) rotate(-45)" class="tk" font-size="7" text-anchor="end" fill="#111">0.5</text>
<line x1="384.20" y1="434.6" x2="384.20" y2="435.8" stroke="#888" stroke-width="1"/>
<text transform="translate(388.40,441.90) rotate(-45)" class="tk" font-size="7" text-anchor="end" fill="#111">1</text>
<line x1="398.60" y1="434.6" x2="398.60" y2="435.8" stroke="#888" stroke-width="1"/>
<text transform="translate(402.80,441.90) rotate(-45)" class="tk" font-size="7" text-anchor="end" fill="#111">1.5</text>
<line x1="350.0" y1="274.08" x2="376.6" y2="274.08" stroke="#006400" stroke-width="1.1" stroke-opacity="0.95"/>
<line x1="351.5" y1="278.28" x2="368.9" y2="278.28" stroke="#006400" stroke-width="1.1" stroke-opacity="0.7"/>
<line x1="339.1" y1="295.36" x2="377.9" y2="295.36" stroke="#ff1493" stroke-width="1.1" stroke-opacity="0.95"/>
<line x1="348.7" y1="299.56" x2="374.3" y2="299.56" stroke="#ff1493" stroke-width="1.1" stroke-opacity="0.7"/>
<line x1="344.2" y1="316.64" x2="372.1" y2="316.64" stroke="#000080" stroke-width="1.1" stroke-opacity="0.95"/>
<line x1="346.4" y1="320.84" x2="364.8" y2="320.84" stroke="#000080" stroke-width="1.1" stroke-opacity="0.7"/>
<line x1="337.4" y1="337.92" x2="366.3" y2="337.92" stroke="#ffff00" stroke-width="1.1" stroke-opacity="0.95"/>
<line x1="345.1" y1="342.12" x2="364.0" y2="342.12" stroke="#ffff00" stroke-width="1.1" stroke-opacity="0.7"/>
<line x1="336.1" y1="359.20" x2="371.1" y2="359.20" stroke="#ff9900" stroke-width="1.1" stroke-opacity="0.95"/>
<line x1="347.0" y1="363.40" x2="369.8" y2="363.40" stroke="#ff9900" stroke-width="1.1" stroke-opacity="0.7"/>
<line x1="349.2" y1="380.48" x2="377.3" y2="380.48" stroke="#87cefa" stroke-width="1.1" stroke-opacity="0.95"/>
<line x1="348.3" y1="384.68" x2="367.2" y2="384.68" stroke="#87cefa" stroke-width="1.1" stroke-opacity="0.7"/>
<line x1="327.5" y1="401.76" x2="356.3" y2="401.76" stroke="#90ee90" stroke-width="1.1" stroke-opacity="0.95"/>
<line x1="350.6" y1="405.96" x2="369.8" y2="405.96" stroke="#90ee90" stroke-width="1.1" stroke-opacity="0.7"/>
<line x1="338.0" y1="423.04" x2="366.1" y2="423.04" stroke="#da55e0" stroke-width="1.1" stroke-opacity="0.95"/>
<line x1="349.2" y1="427.24" x2="367.6" y2="427.24" stroke="#da55e0" stroke-width="1.1" stroke-opacity="0.7"/>
<line x1="355.4" y1="248.4" x2="355.4" y2="434.6" stroke="#a0a0a0" stroke-width="1.2"/>
<circle cx="355.4" cy="252.80" r="1.85" fill="#ff0000"/>
<circle cx="363.1" cy="274.08" r="1.85" fill="#006400"/>
<circle cx="358.4" cy="295.36" r="1.85" fill="#ff1493"/>
<circle cx="358.2" cy="316.64" r="1.85" fill="#000080"/>
<circle cx="351.9" cy="337.92" r="1.85" fill="#ffff00"/>
<circle cx="353.5" cy="359.20" r="1.85" fill="#ff9900"/>
<circle cx="363.1" cy="380.48" r="1.85" fill="#87cefa"/>
<circle cx="341.9" cy="401.76" r="1.85" fill="#90ee90"/>
<circle cx="351.5" cy="423.04" r="1.85" fill="#da55e0"/>
<circle cx="355.4" cy="257.00" r="1.6" fill="#fff" stroke="#ff0000" stroke-width="0.55" stroke-opacity="0.45"/>
<circle cx="360.3" cy="278.28" r="1.6" fill="#fff" stroke="#006400" stroke-width="0.55" stroke-opacity="0.45"/>
<circle cx="361.5" cy="299.56" r="1.6" fill="#fff" stroke="#ff1493" stroke-width="0.55" stroke-opacity="0.45"/>
<circle cx="355.4" cy="320.84" r="1.6" fill="#fff" stroke="#000080" stroke-width="0.55" stroke-opacity="0.45"/>
<circle cx="354.6" cy="342.12" r="1.6" fill="#fff" stroke="#ffff00" stroke-width="0.55" stroke-opacity="0.45"/>
<circle cx="358.2" cy="363.40" r="1.6" fill="#fff" stroke="#ff9900" stroke-width="0.55" stroke-opacity="0.45"/>
<circle cx="358.2" cy="384.68" r="1.6" fill="#fff" stroke="#87cefa" stroke-width="0.55" stroke-opacity="0.45"/>
<circle cx="360.3" cy="405.96" r="1.6" fill="#fff" stroke="#90ee90" stroke-width="0.55" stroke-opacity="0.45"/>
<circle cx="358.6" cy="427.24" r="1.6" fill="#fff" stroke="#da55e0" stroke-width="0.55" stroke-opacity="0.45"/>
<text x="457.0" y="245.8" font-size="7" text-anchor="middle" fill="#111">Late preterm</text>
<line x1="415.30" y1="434.6" x2="498.70" y2="434.6" stroke="#888" stroke-width="1"/>
<line x1="415.30" y1="434.6" x2="415.30" y2="435.8" stroke="#888" stroke-width="1"/>
<text transform="translate(419.50,441.90) rotate(-45)" class="tk" font-size="7" text-anchor="end" fill="#111">−1.5</text>
<line x1="429.20" y1="434.6" x2="429.20" y2="435.8" stroke="#888" stroke-width="1"/>
<text transform="translate(433.40,441.90) rotate(-45)" class="tk" font-size="7" text-anchor="end" fill="#111">−1</text>
<line x1="443.10" y1="434.6" x2="443.10" y2="435.8" stroke="#888" stroke-width="1"/>
<text transform="translate(447.30,441.90) rotate(-45)" class="tk" font-size="7" text-anchor="end" fill="#111">−0.5</text>
<line x1="457.00" y1="434.6" x2="457.00" y2="435.8" stroke="#888" stroke-width="1"/>
<text transform="translate(461.20,441.90) rotate(-45)" class="tk" font-size="7" text-anchor="end" fill="#111">0</text>
<line x1="470.90" y1="434.6" x2="470.90" y2="435.8" stroke="#888" stroke-width="1"/>
<text transform="translate(475.10,441.90) rotate(-45)" class="tk" font-size="7" text-anchor="end" fill="#111">0.5</text>
<line x1="484.80" y1="434.6" x2="484.80" y2="435.8" stroke="#888" stroke-width="1"/>
<text transform="translate(489.00,441.90) rotate(-45)" class="tk" font-size="7" text-anchor="end" fill="#111">1</text>
<line x1="498.70" y1="434.6" x2="498.70" y2="435.8" stroke="#888" stroke-width="1"/>
<text transform="translate(502.90,441.90) rotate(-45)" class="tk" font-size="7" text-anchor="end" fill="#111">1.5</text>
<line x1="457.0" y1="248.4" x2="457.0" y2="434.6" stroke="#c8c8c8" stroke-width="1.8"/>
<line x1="448.4" y1="274.08" x2="460.6" y2="274.08" stroke="#006400" stroke-width="1.1" stroke-opacity="0.95"/>
<line x1="452.3" y1="278.28" x2="459.6" y2="278.28" stroke="#006400" stroke-width="1.1" stroke-opacity="0.7"/>
<line x1="453.9" y1="295.36" x2="469.0" y2="295.36" stroke="#ff1493" stroke-width="1.1" stroke-opacity="0.95"/>
<line x1="456.5" y1="299.56" x2="464.5" y2="299.56" stroke="#ff1493" stroke-width="1.1" stroke-opacity="0.7"/>
<line x1="452.9" y1="316.64" x2="463.8" y2="316.64" stroke="#000080" stroke-width="1.1" stroke-opacity="0.95"/>
<line x1="457.4" y1="320.84" x2="463.8" y2="320.84" stroke="#000080" stroke-width="1.1" stroke-opacity="0.7"/>
<line x1="439.8" y1="337.92" x2="460.4" y2="337.92" stroke="#ffff00" stroke-width="1.1" stroke-opacity="0.95"/>
<line x1="453.5" y1="342.12" x2="465.1" y2="342.12" stroke="#ffff00" stroke-width="1.1" stroke-opacity="0.7"/>
<line x1="444.9" y1="359.20" x2="460.0" y2="359.20" stroke="#ff9900" stroke-width="1.1" stroke-opacity="0.95"/>
<line x1="455.2" y1="363.40" x2="463.8" y2="363.40" stroke="#ff9900" stroke-width="1.1" stroke-opacity="0.7"/>
<line x1="455.2" y1="380.48" x2="468.1" y2="380.48" stroke="#87cefa" stroke-width="1.1" stroke-opacity="0.95"/>
<line x1="454.2" y1="384.68" x2="461.6" y2="384.68" stroke="#87cefa" stroke-width="1.1" stroke-opacity="0.7"/>
<line x1="424.3" y1="401.76" x2="436.8" y2="401.76" stroke="#90ee90" stroke-width="1.1" stroke-opacity="0.95"/>
<line x1="450.3" y1="405.96" x2="457.4" y2="405.96" stroke="#90ee90" stroke-width="1.1" stroke-opacity="0.7"/>
<line x1="430.4" y1="423.04" x2="443.2" y2="423.04" stroke="#da55e0" stroke-width="1.1" stroke-opacity="0.95"/>
<line x1="452.3" y1="427.24" x2="460.0" y2="427.24" stroke="#da55e0" stroke-width="1.1" stroke-opacity="0.7"/>
<circle cx="457.0" cy="252.80" r="1.85" fill="#ff0000"/>
<circle cx="454.2" cy="274.08" r="1.85" fill="#006400"/>
<circle cx="461.0" cy="295.36" r="1.85" fill="#ff1493"/>
<circle cx="458.0" cy="316.64" r="1.85" fill="#000080"/>
<circle cx="449.7" cy="337.92" r="1.85" fill="#ffff00"/>
<circle cx="452.3" cy="359.20" r="1.85" fill="#ff9900"/>
<circle cx="461.3" cy="380.48" r="1.85" fill="#87cefa"/>
<circle cx="430.8" cy="401.76" r="1.85" fill="#90ee90"/>
<circle cx="436.8" cy="423.04" r="1.85" fill="#da55e0"/>
<circle cx="457.0" cy="257.00" r="1.6" fill="#fff" stroke="#ff0000" stroke-width="0.55" stroke-opacity="0.45"/>
<circle cx="456.5" cy="278.28" r="1.6" fill="#fff" stroke="#006400" stroke-width="0.55" stroke-opacity="0.45"/>
<circle cx="460.4" cy="299.56" r="1.6" fill="#fff" stroke="#ff1493" stroke-width="0.55" stroke-opacity="0.45"/>
<circle cx="460.6" cy="320.84" r="1.6" fill="#fff" stroke="#000080" stroke-width="0.55" stroke-opacity="0.45"/>
<circle cx="459.1" cy="342.12" r="1.6" fill="#fff" stroke="#ffff00" stroke-width="0.55" stroke-opacity="0.45"/>
<circle cx="459.7" cy="363.40" r="1.6" fill="#fff" stroke="#ff9900" stroke-width="0.55" stroke-opacity="0.45"/>
<circle cx="457.1" cy="384.68" r="1.6" fill="#fff" stroke="#87cefa" stroke-width="0.55" stroke-opacity="0.45"/>
<circle cx="453.9" cy="405.96" r="1.6" fill="#fff" stroke="#90ee90" stroke-width="0.55" stroke-opacity="0.45"/>
<circle cx="456.1" cy="427.24" r="1.6" fill="#fff" stroke="#da55e0" stroke-width="0.55" stroke-opacity="0.45"/>
</svg>
</body></html>
